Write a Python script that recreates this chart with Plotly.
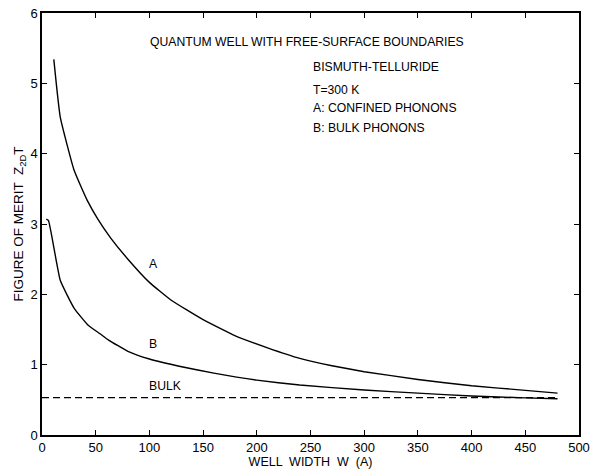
import plotly.graph_objects as go

# Curve A: confined phonons
a_x = [11, 17, 30, 42, 52, 64, 80, 100, 120, 150, 180, 210, 240, 270, 300, 350, 400, 450, 480]
a_y = [5.34, 4.52, 3.76, 3.34, 3.07, 2.80, 2.50, 2.17, 1.92, 1.64, 1.41, 1.24, 1.09, 0.985, 0.90, 0.79, 0.70, 0.635, 0.595]

# Curve B: bulk phonons
b_x = [4, 6, 17, 30, 43, 54, 62, 80, 100, 130, 160, 200, 240, 300, 350, 400, 450, 480]
b_y = [3.07, 3.05, 2.20, 1.80, 1.56, 1.44, 1.35, 1.19, 1.08, 0.97, 0.88, 0.78, 0.71, 0.64, 0.595, 0.555, 0.528, 0.515]

# Bulk value
bulk_x = [0, 480]
bulk_y = [0.53, 0.53]

x_ticks = [0, 50, 100, 150, 200, 250, 300, 350, 400, 450, 500]
y_ticks = [0, 1, 2, 3, 4, 5, 6]

FONT = "Arial, Liberation Sans, Helvetica, sans-serif"

fig = go.Figure()
fig.add_trace(go.Scatter(x=a_x, y=a_y, mode="lines",
                         line=dict(color="black", width=1.4, shape="spline", smoothing=0.4), showlegend=False))
fig.add_trace(go.Scatter(x=b_x, y=b_y, mode="lines",
                         line=dict(color="black", width=1.4, shape="spline", smoothing=0.4), showlegend=False))
fig.add_trace(go.Scatter(x=bulk_x, y=bulk_y, mode="lines",
                         line=dict(color="black", width=1.3, dash="7px,4px"), showlegend=False))

annots = [
    dict(x=247, y=5.59, text="QUANTUM WELL WITH FREE-SURFACE BOUNDARIES", xanchor="center"),
    dict(x=250, y=5.23, text="BISMUTH-TELLURIDE", xanchor="left"),
    dict(x=250, y=4.91, text="T=300 K", xanchor="left"),
    dict(x=250, y=4.65, text="A: CONFINED PHONONS", xanchor="left"),
    dict(x=250, y=4.36, text="B: BULK PHONONS", xanchor="left"),
    dict(x=103.6, y=2.43, text="A", xanchor="center"),
    dict(x=103.6, y=1.30, text="B", xanchor="center"),
    dict(x=114.5, y=0.70, text="BULK", xanchor="center"),
]
for an in annots:
    fig.add_annotation(x=an["x"], y=an["y"], text=an["text"], xanchor=an["xanchor"], yanchor="middle",
                       showarrow=False, font=dict(family=FONT, size=12.2, color="black"))

axis_common = dict(showgrid=False, zeroline=False, showline=True, linecolor="black", linewidth=1.5,
                   mirror="ticks", ticks="inside", ticklen=5, tickwidth=1.2, tickcolor="black",
                   automargin=False, tickfont=dict(family=FONT, size=13, color="black"))

fig.update_xaxes(range=[0, 500], tickvals=x_ticks, ticktext=[str(v) for v in x_ticks],
                 title=dict(text="WELL  WIDTH  W  (A)", font=dict(family=FONT, size=12.5, color="black"), standoff=0),
                 **axis_common)
fig.update_yaxes(range=[0, 6], tickvals=y_ticks, ticktext=[str(v) for v in y_ticks],
                 title=dict(text="FIGURE OF MERIT  Z<sub>2D</sub>T", font=dict(family=FONT, size=13.5, color="black"), standoff=4),
                 **axis_common)

fig.update_layout(width=597, height=470, margin=dict(l=42, r=18, t=13, b=35),
                  paper_bgcolor="white", plot_bgcolor="white")

fig.write_html("out.html")
